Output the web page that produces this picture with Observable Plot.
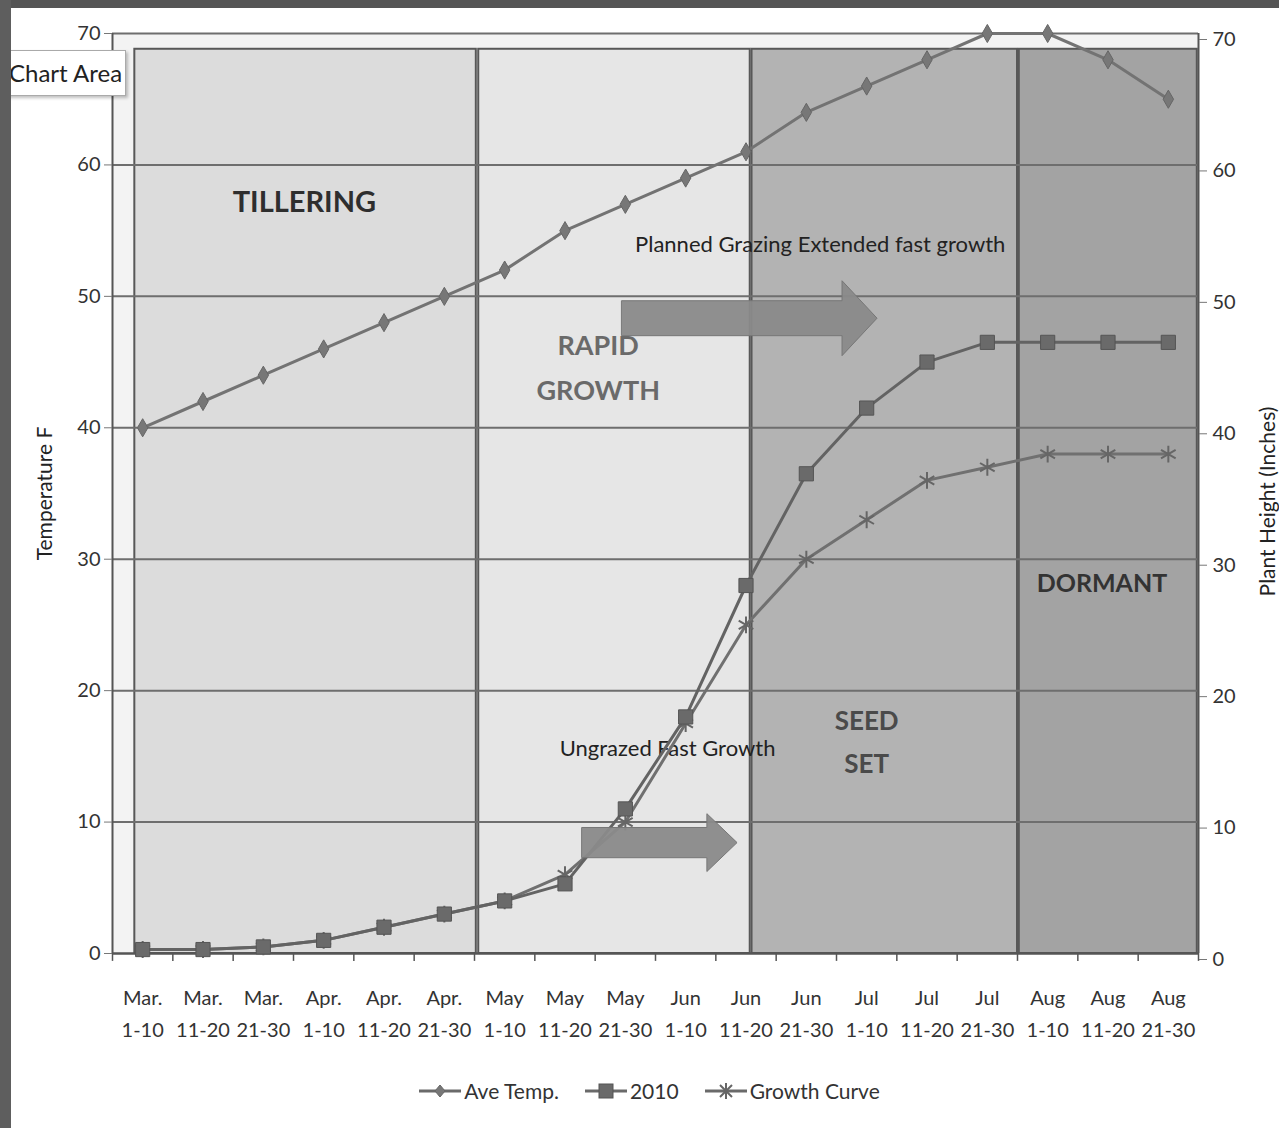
<!DOCTYPE html>
<html>
<head>
<meta charset="utf-8">
<script src="https://cdn.jsdelivr.net/npm/d3@7"></script>
<script src="https://cdn.jsdelivr.net/npm/@observablehq/plot@0.6"></script>
<style>
  body { margin: 0; background: #fff; font-family: Lato, "Open Sans", sans-serif; }
  #wrap { position: relative; width: 1279px; height: 1128px; overflow: hidden; background: #fff; }
  #chart { position: absolute; left: 0; top: 0; }
  #stripTop { position: absolute; left: 0; top: 0; width: 1279px; height: 8px; background: #555; }
  #stripLeft { position: absolute; left: 0; top: 0; width: 11px; height: 1128px; background: #5e5e5e; }
  #chartArea { position: absolute; left: 2px; top: 50px; width: 124px; height: 46px; background: #fff;
    border: 1px solid #aaa; box-shadow: 2px 2px 3px rgba(0,0,0,0.25); font-size: 24px; color: #222;
    line-height: 44px; padding-left: 6px; box-sizing: border-box; }
  #legend { position: absolute; left: 0; top: 1078px; width: 1279px; display: flex; justify-content: center;
    gap: 26px; font-size: 21px; color: #333; padding-left: 20px; box-sizing: border-box; }
  .item { display: flex; align-items: center; gap: 3px; }
</style>
</head>
<body>
<div id="wrap">
  <div id="chart"></div>
  <div id="legend"></div>
  <div id="chartArea">Chart Area</div>
  <div id="stripTop"></div>
  <div id="stripLeft"></div>
</div>
<script>
// ---- data ----
const months = ["Mar.","Mar.","Mar.","Apr.","Apr.","Apr.","May","May","May","Jun","Jun","Jun","Jul","Jul","Jul","Aug","Aug","Aug"];
const days = ["1-10","11-20","21-30","1-10","11-20","21-30","1-10","11-20","21-30","1-10","11-20","21-30","1-10","11-20","21-30","1-10","11-20","21-30"];
const aveTemp = [40,42,44,46,48,50,52,55,57,59,61,64,66,68,70,70,68,65];
const height2010 = [0.3,0.3,0.5,1,2,3,4,5.3,11,18,28,36.5,41.5,45,46.5,46.5,46.5,46.5];
const growthCurve = [0.3,0.3,0.5,1,2,3,4,6,10,17.5,25,30,33,36,37,38,38,38];
const yTicks = [0,10,20,30,40,50,60,70];
const seriesNames = ["Ave Temp.","2010","Growth Curve"];

// growth phases (in category-index units along x, plant-height units along y)
const phaseNames = ["TILLERING","RAPID GROWTH","SEED SET","DORMANT"];
const phaseStart = [-0.13, 5.57, 10.1, 14.53];
const phaseEnd = [5.53, 10.07, 14.5, 17.48];
const phaseTop = 68.8;

// annotation texts
const phaseLabels = [
  {text: "TILLERING", x: 2.68, y: 57.6, fill: "#2e2e2e", size: 29},
  {text: "RAPID\nGROWTH", x: 7.55, y: 44.9, fill: "#6a6a6a", size: 27},
  {text: "SEED\nSET", x: 12.0, y: 16.4, fill: "#4a4a4a", size: 26},
  {text: "DORMANT", x: 15.9, y: 28.5, fill: "#333", size: 25}
];
const noteLabels = [
  {text: "Planned Grazing Extended fast growth", x: 11.23, y: 53.9},
  {text: "Ungrazed Fast Growth", x: 8.7, y: 15.6}
];
const arrows = [
  {x0: 7.95, xHead: 11.6, x1: 12.18, y: 48.3, body: 1.33, head: 2.85},
  {x0: 7.29, xHead: 9.36, x1: 9.86, y: 8.4, body: 1.15, head: 2.2}
];

// ---- derived tables ----
const idx = months.map((_, i) => i);
const phases = phaseNames.map((name, i) => ({name, x1: phaseStart[i], x2: phaseEnd[i]}));
const phaseFill = {"TILLERING": "#dcdcdc", "RAPID GROWTH": "#e6e6e6", "SEED SET": "#b3b3b3", "DORMANT": "#a3a3a3"};
const temp = idx.map(i => ({x: i, v: aveTemp[i]}));
const h2010 = idx.map(i => ({x: i, v: height2010[i]}));
const growth = idx.map(i => ({x: i, v: growthCurve[i]}));
const arrowPts = arrows.map((a, k) => [
  {k, x: a.x0, lo: a.y - a.body, hi: a.y + a.body},
  {k, x: a.xHead, lo: a.y - a.body, hi: a.y + a.body},
  {k, x: a.xHead, lo: a.y - a.head, hi: a.y + a.head},
  {k, x: a.x1, lo: a.y, hi: a.y}
]);
const boundaries = d3.range(-0.5, 17.6, 1);

const chart = Plot.plot({
  width: 1279,
  height: 1060,
  marginLeft: 112,
  marginRight: 81,
  marginTop: 33,
  marginBottom: 107,
  style: {fontFamily: "Lato, 'Open Sans', sans-serif", background: "transparent", color: "#333"},
  x: {type: "linear", domain: [-0.5, 17.5], axis: null},
  y: {domain: [0, 70], axis: null},
  marks: [
    Plot.frame({fill: "#f3f3f3", stroke: null}),
    Plot.rect(phases, {x1: "x1", x2: "x2", y1: 0, y2: phaseTop, fill: d => phaseFill[d.name], stroke: "#585858", strokeWidth: 2}),
    Plot.ruleY(yTicks.slice(1), {stroke: "#6e6e6e", strokeWidth: 2}),
    Plot.ruleX(boundaries, {y1: 0, y2: -0.6, stroke: "#555", strokeWidth: 1.5}),
    Plot.ruleX([-0.5, 17.5], {stroke: "#555", strokeWidth: 2}),
    Plot.ruleY([0], {stroke: "#555", strokeWidth: 2.5}),
    Plot.axisY(yTicks, {anchor: "left", tickSize: 8, tickPadding: 4, fontSize: 20, stroke: "#777", fill: "#333", label: null}),
    Plot.axisY(yTicks, {anchor: "right", tickSize: 8, tickPadding: 6, fontSize: 20, stroke: "#777", fill: "#333", label: null, dy: 6}),
    Plot.text(["Temperature F"], {frameAnchor: "left", textAnchor: "middle", dx: -67, rotate: -90, fontSize: 21, fill: "#222"}),
    Plot.text(["Plant Height (Inches)"], {frameAnchor: "right", textAnchor: "middle", dx: 70, dy: 8, rotate: -90, fontSize: 21, fill: "#222"}),
    Plot.text(idx, {x: d => d, y: 0, text: d => months[d], dy: 45, fontSize: 20, fill: "#333"}),
    Plot.text(idx, {x: d => d, y: 0, text: d => days[d], dy: 77, fontSize: 20, fill: "#333"}),
    ...phaseLabels.map(p => Plot.text([p], {x: "x", y: "y", text: "text", fill: "fill", fontSize: p.size, fontWeight: "bold", lineHeight: 1.65})),
    Plot.text(noteLabels, {x: "x", y: "y", text: "text", fill: "#222", fontSize: 22}),
    Plot.line(temp, {x: "x", y: "v", stroke: "#737373", strokeWidth: 3}),
    Plot.dot(temp, {x: "x", y: "v", symbol: "diamond", r: 5.5, fill: "#777", stroke: "#666", strokeWidth: 1}),
    Plot.line(growth, {x: "x", y: "v", stroke: "#707070", strokeWidth: 3}),
    Plot.dot(growth, {x: "x", y: "v", symbol: "asterisk", r: 8, stroke: "#666", strokeWidth: 2}),
    Plot.line(h2010, {x: "x", y: "v", stroke: "#636363", strokeWidth: 3}),
    Plot.dot(h2010, {x: "x", y: "v", symbol: "square", r: 8, fill: "#6a6a6a", stroke: "#555", strokeWidth: 1}),
    ...arrowPts.map(pts => Plot.areaY(pts, {x: "x", y1: "lo", y2: "hi", fill: "#8a8a8a", fillOpacity: 0.95, stroke: "#777", strokeWidth: 1}))
  ]
});
document.getElementById("chart").appendChild(chart);

// ---- legend ----
const legendSymbols = [
  '<path d="M21,4 L26,10 L21,16 L16,10 Z" fill="#777" stroke="#666"/>',
  '<rect x="14" y="3" width="14" height="14" fill="#6a6a6a" stroke="#555"/>',
  '<path d="M15,4 L27,16 M27,4 L15,16 M21,2 L21,18" stroke="#666" stroke-width="2"/>'
];
const legend = document.getElementById("legend");
seriesNames.forEach((name, i) => {
  const item = document.createElement("div");
  item.className = "item";
  item.innerHTML = `<svg width="42" height="20"><line x1="0" y1="10" x2="42" y2="10" stroke="#6a6a6a" stroke-width="3"/>${legendSymbols[i]}</svg><span>${name}</span>`;
  legend.appendChild(item);
});
</script>
</body>
</html>
